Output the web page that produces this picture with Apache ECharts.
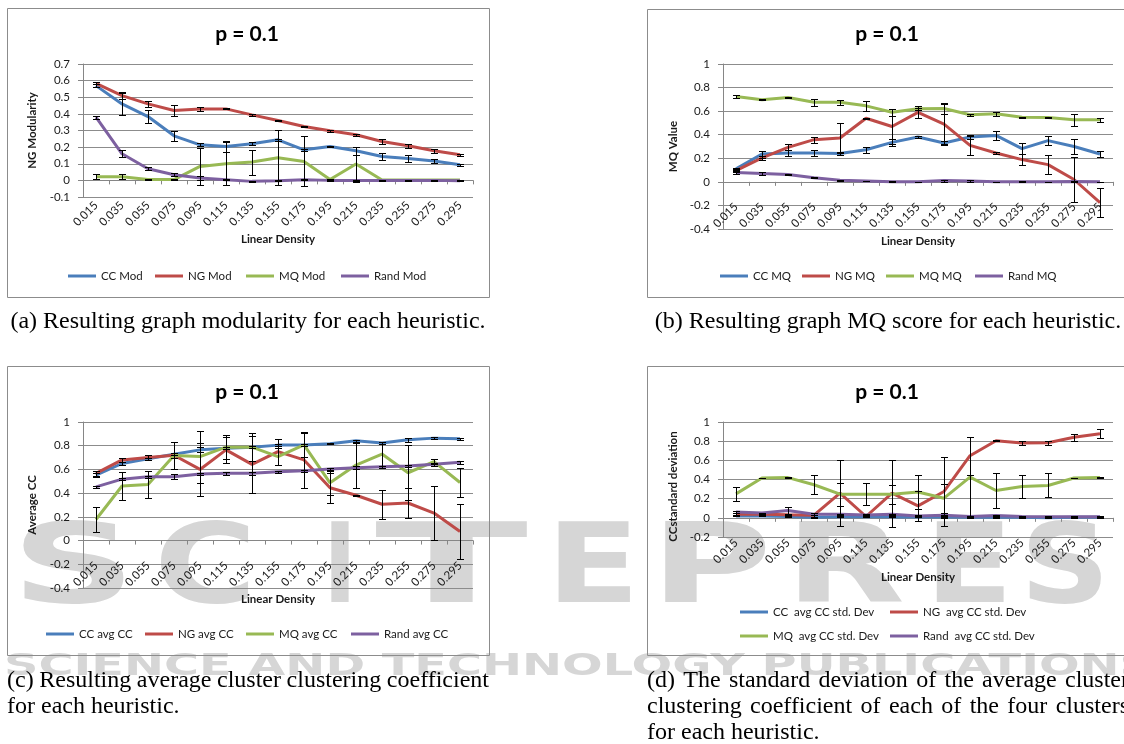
<!DOCTYPE html>
<html>
<head>
<meta charset="utf-8">
<title>p = 0.1</title>
<script src="https://cdn.jsdelivr.net/npm/echarts@6.0.0/dist/echarts.min.js"></script>
<style>
html,body{margin:0;padding:0;background:#fff;}
#chart{width:1124px;height:744px;}
</style>
</head>
<body>
<div id="chart"></div>
<script>
// ---------------- data ----------------
const densities = ['0.015','0.035','0.055','0.075','0.095','0.115','0.135','0.155','0.175','0.195','0.215','0.235','0.255','0.275','0.295'];

// (a) modularity
const ccMod      = [0.57, 0.46, 0.384, 0.268, 0.214, 0.204, 0.22, 0.244, 0.184, 0.204, 0.178, 0.144, 0.132, 0.116, 0.094];
const ccModErr   = [0.01, 0.065, 0.04, 0.03, 0.01, 0.035, 0.01, 0.005, 0.005, 0.005, 0.025, 0.02, 0.02, 0.01, 0.005];
const ngMod      = [0.584, 0.51, 0.46, 0.42, 0.43, 0.43, 0.394, 0.36, 0.324, 0.298, 0.274, 0.234, 0.208, 0.178, 0.154];
const ngModErr   = [0.005, 0.02, 0.018, 0.035, 0.012, 0.003, 0.005, 0.005, 0.005, 0.005, 0.005, 0.015, 0.013, 0.013, 0.005];
const mqMod      = [0.022, 0.022, 0.005, 0.005, 0.084, 0.1, 0.11, 0.136, 0.114, 0.005, 0.098, 0.002, 0.002, 0.002, 0.002];
const mqModErr   = [0.015, 0.015, 0.002, 0.002, 0.11, 0.13, 0.075, 0.165, 0.15, 0.003, 0.105, 0.002, 0.002, 0.002, 0.002];
const randMod    = [0.38, 0.16, 0.07, 0.034, 0.014, 0.004, -0.006, -0.002, 0.004, 0.0, 0.0, 0.0, 0.0, 0.0, -0.003];
const randModErr = [0.01, 0.02, 0.01, 0.01, 0.01, 0.003, 0.003, 0.003, 0.003, 0.003, 0.003, 0.003, 0.003, 0.003, 0.003];

// (b) MQ value
const ccMQ      = [0.11, 0.236, 0.245, 0.245, 0.24, 0.273, 0.335, 0.38, 0.33, 0.38, 0.394, 0.282, 0.35, 0.30, 0.236];
const ccMQErr   = [0.01, 0.03, 0.025, 0.025, 0.01, 0.025, 0.03, 0.005, 0.02, 0.02, 0.035, 0.045, 0.04, 0.06, 0.025];
const ngMQ      = [0.096, 0.203, 0.293, 0.358, 0.372, 0.54, 0.47, 0.59, 0.49, 0.31, 0.245, 0.189, 0.146, 0.02, -0.177];
const ngMQErr   = [0.01, 0.02, 0.025, 0.025, 0.125, 0.005, 0.15, 0.05, 0.17, 0.08, 0.005, 0.045, 0.08, 0.19, 0.125];
const mqMQ      = [0.724, 0.696, 0.715, 0.676, 0.676, 0.645, 0.59, 0.62, 0.622, 0.569, 0.577, 0.549, 0.546, 0.527, 0.527];
const mqMQErr   = [0.015, 0.003, 0.005, 0.03, 0.02, 0.045, 0.03, 0.01, 0.045, 0.01, 0.015, 0.003, 0.003, 0.05, 0.015];
const randMQ    = [0.08, 0.07, 0.062, 0.034, 0.014, 0.008, 0.0, 0.0, 0.011, 0.008, 0.0, 0.0, 0.0, 0.002, 0.0];
const randMQErr = [0.012, 0.012, 0.005, 0.003, 0.005, 0.003, 0.005, 0.003, 0.008, 0.005, 0.003, 0.005, 0.003, 0.003, 0.003];

// (c) average CC
const ccAvg      = [0.552, 0.65, 0.69, 0.728, 0.765, 0.779, 0.788, 0.805, 0.805, 0.816, 0.841, 0.822, 0.85, 0.864, 0.858];
const ccAvgErr   = [0.015, 0.015, 0.01, 0.01, 0.02, 0.01, 0.01, 0.01, 0.01, 0.005, 0.01, 0.01, 0.015, 0.01, 0.01];
const ngAvg      = [0.567, 0.68, 0.70, 0.72, 0.60, 0.765, 0.643, 0.75, 0.68, 0.445, 0.382, 0.306, 0.317, 0.232, 0.076];
const ngAvgErr   = [0.02, 0.02, 0.02, 0.02, 0.22, 0.11, 0.24, 0.11, 0.235, 0.125, 0.005, 0.12, 0.13, 0.23, 0.23];
const mqAvg      = [0.178, 0.46, 0.473, 0.717, 0.708, 0.788, 0.788, 0.708, 0.807, 0.487, 0.637, 0.73, 0.572, 0.666, 0.49];
const mqAvgErr   = [0.105, 0.115, 0.115, 0.115, 0.22, 0.1, 0.12, 0.07, 0.1, 0.1, 0.19, 0.1, 0.23, 0.02, 0.12];
const randAvg    = [0.453, 0.518, 0.538, 0.538, 0.561, 0.567, 0.567, 0.58, 0.589, 0.603, 0.615, 0.623, 0.629, 0.643, 0.66];
const randAvgErr = [0.01, 0.01, 0.01, 0.02, 0.01, 0.01, 0.01, 0.01, 0.01, 0.01, 0.01, 0.01, 0.01, 0.01, 0.01];

// (d) CC standard deviation
const ccStd      = [0.02, 0.02, 0.015, 0.005, 0.01, 0.012, 0.01, 0.01, 0.008, 0.005, 0.008, 0.005, 0.0, 0.005, 0.005];
const ccStdErr   = [0.005, 0.005, 0.005, 0.005, 0.005, 0.005, 0.005, 0.005, 0.005, 0.005, 0.005, 0.005, 0.005, 0.005, 0.005];
const ngStd      = [0.038, 0.038, 0.031, 0.028, 0.258, 0.014, 0.258, 0.125, 0.275, 0.648, 0.805, 0.78, 0.784, 0.84, 0.878];
const ngStdErr   = [0.01, 0.005, 0.005, 0.02, 0.345, 0.003, 0.35, 0.155, 0.355, 0.2, 0.005, 0.02, 0.02, 0.04, 0.045];
const mqStd      = [0.25, 0.415, 0.42, 0.345, 0.247, 0.247, 0.247, 0.27, 0.205, 0.425, 0.285, 0.327, 0.338, 0.415, 0.42];
const mqStdErr   = [0.07, 0.003, 0.003, 0.1, 0.12, 0.115, 0.1, 0.18, 0.15, 0.42, 0.185, 0.12, 0.125, 0.003, 0.005];
const randStd    = [0.06, 0.05, 0.077, 0.038, 0.038, 0.03, 0.038, 0.02, 0.028, 0.015, 0.025, 0.015, 0.012, 0.012, 0.012];
const randStdErr = [0.01, 0.005, 0.04, 0.01, 0.005, 0.005, 0.005, 0.005, 0.005, 0.005, 0.005, 0.005, 0.005, 0.005, 0.005];

// text
const chartTitle = 'p = 0.1';
const xName = 'Linear Density';
const namesA = ['CC Mod', 'NG Mod', 'MQ Mod', 'Rand Mod'];
const namesB = ['CC MQ', 'NG MQ', 'MQ MQ', 'Rand MQ'];
const namesC = ['CC avg CC', 'NG avg CC', 'MQ avg CC', 'Rand avg CC'];
const namesD = ['CC  avg CC std. Dev', 'NG  avg CC std. Dev', 'MQ  avg CC std. Dev', 'Rand  avg CC std. Dev'];
const captionA = '(a) Resulting graph modularity for each heuristic.';
const captionB = '(b) Resulting graph MQ score for each heuristic.';
const captionC = ['(c) Resulting average cluster clustering coefficient', 'for each heuristic.'];
const captionD = ['(d) The standard deviation of the average cluster', 'clustering coefficient of each of the four clusters', 'for each heuristic.'];
const watermarkWord = 'SCITEPRESS';
const watermarkLine = 'SCIENCE AND TECHNOLOGY PUBLICATIONS';

// ---------------- layout / style ----------------
const FONT = 'Lato, "Open Sans", sans-serif';
const COLORS = ['#4A7EBB', '#BE4B48', '#98B954', '#7D60A0'];
const GRID_COLOR = '#8c8c8c';
const TXT = '#1a1a1a';

const panels = [
  { grid: {left: 83, top: 64, width: 390, height: 133}, min: -0.1, max: 0.7, interval: 0.1,
    yName: 'NG Modularity', yGap: 45, namePad: [0, 0, 0, 0],
    names: namesA, vals: [ccMod, ngMod, mqMod, randMod], errs: [ccModErr, ngModErr, mqModErr, randModErr],
    legendPos: [[70, 277], [157, 277], [248, 277], [343, 277]], title: [247, 34],
    frame: [7, 8, 482, 289] },
  { grid: {left: 723, top: 64, width: 390, height: 165}, min: -0.4, max: 1, interval: 0.2,
    yName: 'MQ Value', yGap: 44, namePad: [0, 0, 0, 0],
    names: namesB, vals: [ccMQ, ngMQ, mqMQ, randMQ], errs: [ccMQErr, ngMQErr, mqMQErr, randMQErr],
    legendPos: [[722, 277], [804, 277], [888, 277], [977, 277]], title: [887, 34],
    frame: [647, 9, 500, 288] },
  { grid: {left: 83, top: 422, width: 390, height: 166}, min: -0.4, max: 1, interval: 0.2,
    yName: 'Average CC', yGap: 45, namePad: [0, 0, 0, 0],
    names: namesC, vals: [ccAvg, ngAvg, mqAvg, randAvg], errs: [ccAvgErr, ngAvgErr, mqAvgErr, randAvgErr],
    legendPos: [[48, 635], [147, 635], [248, 635], [353, 635]], title: [247, 392],
    frame: [7, 366, 482, 289] },
  { grid: {left: 723, top: 422, width: 390, height: 115}, min: -0.2, max: 1, interval: 0.2,
    yName: 'CCstandard deviation', yGap: 44, namePad: [0, 14, 0, 0],
    names: namesD, vals: [ccStd, ngStd, mqStd, randStd], errs: [ccStdErr, ngStdErr, mqStdErr, randStdErr],
    legendPos: [[742, 613], [892, 613], [742, 637], [892, 637]], title: [887, 392],
    frame: [647, 366, 500, 289] }
];

function yFmt(v) { const r = Math.round(v * 10) / 10; return String(r === 0 ? 0 : r); }

function errorRender(params, api) {
  const i = api.value(0);
  const lo = api.coord([i, api.value(1)]);
  const hi = api.coord([i, api.value(2)]);
  const x = Math.round(lo[0]) + 0.5;
  const y1 = Math.round(lo[1]) + 0.5, y2 = Math.round(hi[1]) + 0.5;
  const hw = 3.5;
  const st = {stroke: '#000', lineWidth: 1};
  return {type: 'group', children: [
    {type: 'line', shape: {x1: x, y1: y1, x2: x, y2: y2}, style: st},
    {type: 'line', shape: {x1: x - hw, y1: y1, x2: x + hw, y2: y1}, style: st},
    {type: 'line', shape: {x1: x - hw, y1: y2, x2: x + hw, y2: y2}, style: st}
  ]};
}

const option = {
  backgroundColor: '#fff', animation: false,
  grid: [], xAxis: [], yAxis: [], series: [], legend: [],
  graphic: {elements: []}
};
const G = option.graphic.elements;

const mctx = document.createElement('canvas').getContext('2d');
function textW(t, font) { mctx.font = font; return mctx.measureText(t).width; }

// watermark (behind everything)
const wmColor = '#d6d6d6';
const wmLetters = [[11, 136], [154, 257], [323, 357], [375, 528], [546, 640], [650, 772], [785, 905], [925, 1013], [1020, 1110], [1120, 1210]];
const wmFont = 'bold 110px "DejaVu Sans"';
watermarkWord.split('').forEach((ch, i) => {
  const box = wmLetters[i];
  const w = textW(ch, wmFont);
  G.push({type: 'text', x: box[0], y: 573, scaleX: (box[1] - box[0]) / w, z: -10, silent: true,
    style: {text: ch, font: wmFont, fill: wmColor, align: 'left', verticalAlign: 'middle'}});
});
{
  const f = 'bold 30px "DejaVu Sans"';
  const w = textW(watermarkLine, f);
  G.push({type: 'text', x: 4, y: 667, scaleX: 1150 / w, z: -10, silent: true,
    style: {text: watermarkLine, font: f, fill: wmColor, align: 'left', verticalAlign: 'middle'}});
}

panels.forEach((p, k) => {
  const zeroOffset = -(p.grid.height * (0 - p.min) / (p.max - p.min));
  option.grid.push(Object.assign({containLabel: false}, p.grid));
  option.xAxis.push({
    type: 'category', gridIndex: k, data: densities, boundaryGap: true, position: 'bottom', offset: zeroOffset,
    name: xName, nameLocation: 'middle', nameGap: 53,
    nameTextStyle: {fontFamily: FONT, fontWeight: 'bold', fontSize: 11.5, color: TXT},
    axisLine: {show: true, onZero: false, lineStyle: {color: '#868686', width: 1}},
    axisTick: {show: true, length: 4, interval: 0, lineStyle: {color: '#868686'}},
    axisLabel: {interval: 0, rotate: 45, margin: 23, fontFamily: FONT, fontSize: 11.5, color: TXT},
    splitLine: {show: false}
  });
  option.yAxis.push({
    type: 'value', gridIndex: k, min: p.min, max: p.max, interval: p.interval,
    name: p.yName, nameLocation: 'middle', nameRotate: 90, nameGap: p.yGap,
    nameTextStyle: {fontFamily: FONT, fontWeight: 'bold', fontSize: 11.5, color: TXT, padding: p.namePad},
    axisLine: {show: true, lineStyle: {color: '#868686', width: 1}},
    axisTick: {show: true, length: 5, lineStyle: {color: '#868686'}},
    axisLabel: {margin: 13, formatter: yFmt, fontFamily: FONT, fontSize: 11.5, color: TXT},
    splitLine: {show: true, lineStyle: {color: GRID_COLOR, width: 1}}
  });
  p.names.forEach((n, j) => {
    option.series.push({
      type: 'line', name: n, xAxisIndex: k, yAxisIndex: k, data: p.vals[j],
      symbol: 'none', showSymbol: false, z: 3,
      lineStyle: {width: 3, color: COLORS[j]}, itemStyle: {color: COLORS[j]}
    });
    option.legend.push({
      data: [n], left: p.legendPos[j][0] - 2, top: p.legendPos[j][1] - 7, padding: 0,
      icon: 'rect', itemWidth: 28, itemHeight: 3, selectedMode: false,
      textStyle: {fontFamily: FONT, fontSize: 11.5, color: TXT}
    });
  });
  p.names.forEach((n, j) => {
    option.series.push({
      type: 'custom', xAxisIndex: k, yAxisIndex: k, z: 5, silent: true,
      data: p.vals[j].map((v, i) => [i, v - p.errs[j][i], v + p.errs[j][i]]),
      encode: {x: 0, y: [1, 2]}, renderItem: errorRender
    });
  });
  G.push({type: 'rect', z: 1, silent: true,
    shape: {x: p.frame[0] + 0.5, y: p.frame[1] + 0.5, width: p.frame[2], height: p.frame[3]},
    style: {fill: 'none', stroke: '#8c8c8c', lineWidth: 1}});
  G.push({type: 'text', x: p.title[0], y: p.title[1], z: 10, silent: true,
    style: {text: chartTitle, font: 'bold 21px Lato, "Open Sans", sans-serif', fill: '#000', align: 'center', verticalAlign: 'middle'}});
});

// captions
const capFont = '24px "Liberation Serif", "DejaVu Serif", serif';
function caption(text, x, y, width, justify, center) {
  if (!justify) {
    G.push({type: 'text', x: center ? x + width / 2 : x, y: y, z: 10, silent: true,
      style: {text: text, font: capFont, fill: '#000', align: center ? 'center' : 'left', verticalAlign: 'middle'}});
    return;
  }
  const words = text.split(' ');
  const ws = words.map(w => textW(w, capFont));
  const total = ws.reduce((a, b) => a + b, 0);
  const gap = (width - total) / (words.length - 1);
  let cx = x;
  words.forEach((w, i) => {
    G.push({type: 'text', x: cx, y: y, z: 10, silent: true,
      style: {text: w, font: capFont, fill: '#000', align: 'left', verticalAlign: 'middle'}});
    cx += ws[i] + gap;
  });
}
caption(captionA, 7, 322, 482, false, true);
caption(captionB, 647, 322, 482, false, true);
caption(captionC[0], 7, 681, 482, true);
caption(captionC[1], 7, 707, 482, false);
caption(captionD[0], 647, 681, 482, true);
caption(captionD[1], 647, 707, 482, true);
caption(captionD[2], 647, 733, 482, false);

const chart = echarts.init(document.getElementById('chart'), null, {renderer: 'canvas', width: 1124, height: 744});
chart.setOption(option);
</script>
</body>
</html>
